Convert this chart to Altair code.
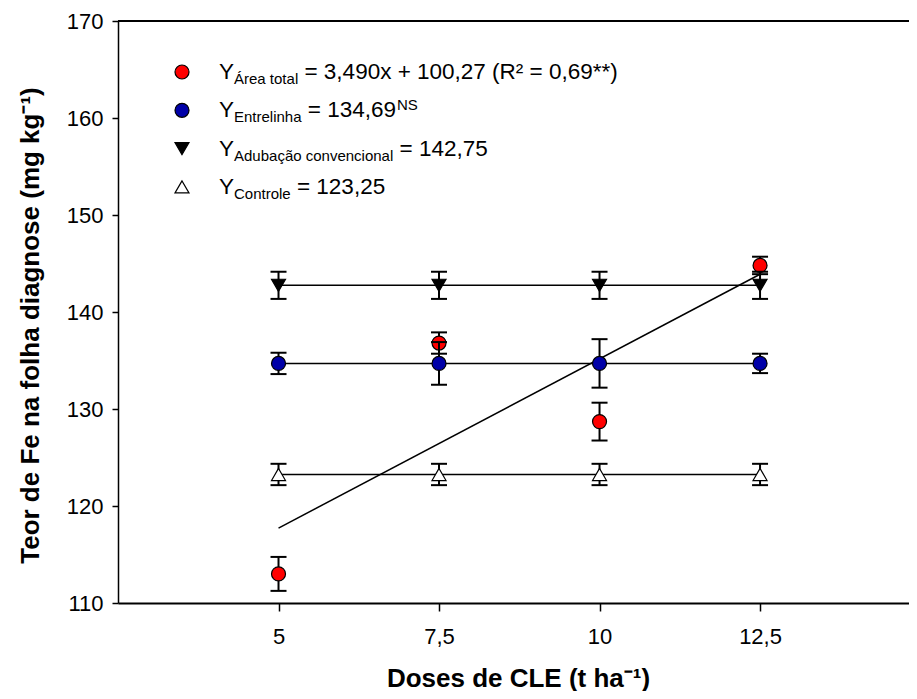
import altair as alt
import pandas as pd

# ---------------- data ----------------
doses = [5, 7.5, 10, 12.5]

area_total = [113.0, 136.8, 128.7, 144.8]
area_total_err = [1.75, 1.1, 1.95, 0.9]

entrelinha = [134.7, 134.7, 134.7, 134.7]
entrelinha_err = [1.1, 2.2, 2.5, 1.0]

adubacao = [142.75, 142.75, 142.75, 142.75]
adubacao_err = [1.4, 1.4, 1.4, 1.4]

controle = [123.25, 123.25, 123.25, 123.25]
controle_err = [1.1, 1.1, 1.1, 1.1]

# regression / mean lines (from the legend equations)
reg_slope, reg_intercept = 3.490, 100.27
mean_entrelinha = 134.69
mean_adubacao = 142.75
mean_controle = 123.25

x_ticks = [5, 7.5, 10, 12.5]
y_ticks = [110, 120, 130, 140, 150, 160, 170]

legend_rows = [
    ("Y", "Área total", "= 3,490x + 100,27 (R² = 0,69**)", ""),
    ("Y", "Entrelinha", "= 134,69", "NS"),
    ("Y", "Adubação convencional", "= 142,75", ""),
    ("Y", "Controle", "= 123,25", ""),
]

# ---------------- layout ----------------
W, H = 791, 582
FONT = "Liberation Sans"
RED, BLUE = "#FF0000", "#0000A8"

x_scale = alt.Scale(domain=[2.5, 14.82], nice=False, zero=False)
y_scale = alt.Scale(domain=[110, 170], nice=False, zero=False)

x_axis = alt.Axis(
    values=x_ticks, labelExpr="replace(format(datum.value, ''), '.', ',')",
    title="Doses de CLE (t ha⁻¹)", titleFontSize=26, titleFontWeight="bold",
    titleX=400, titleY=83, titleBaseline="alphabetic", titleAlign="center",
    labelFontSize=22, labelPadding=15, tickSize=8, tickWidth=1.5,
    domainWidth=2, grid=False, labelFlush=False,
)
y_axis = alt.Axis(
    values=y_ticks, title="Teor de Fe na folha diagnose (mg kg⁻¹)",
    titleFontSize=26, titleFontWeight="bold", titleAngle=270,
    titleX=-80, titleY=304, titleBaseline="alphabetic", titleAlign="center",
    labelFontSize=22, labelPadding=9, tickSize=6, tickWidth=1.5,
    domainWidth=1.5, grid=False, labelFlush=False,
)


def X(field="dose"):
    return alt.X(f"{field}:Q", scale=x_scale, axis=x_axis)


def Y(field="value"):
    return alt.Y(f"{field}:Q", scale=y_scale, axis=y_axis)


def series_df(vals, errs):
    df = pd.DataFrame({"dose": doses, "value": vals, "err": errs})
    df["lo"] = df["value"] - df["err"]
    df["hi"] = df["value"] + df["err"]
    return df


series = [
    (series_df(area_total, area_total_err), "circle", RED),
    (series_df(entrelinha, entrelinha_err), "circle", BLUE),
    (series_df(adubacao, adubacao_err), "triangle-down", "black"),
    (series_df(controle, controle_err), "triangle-up", "white"),
]

layers = []

# top frame line
top_line = alt.Chart(alt.Data(values=[{}])).mark_rule(color="black", strokeWidth=2).encode(
    x=alt.value(0), x2=alt.value(W), y=alt.value(0)
)
layers.append(top_line)

# mean lines
means = pd.DataFrame({
    "x0": [min(doses)] * 3,
    "x1": [max(doses)] * 3,
    "value": [mean_entrelinha, mean_adubacao, mean_controle],
})
layers.append(
    alt.Chart(means).mark_rule(color="black", strokeWidth=1.5).encode(
        x=X("x0"), x2="x1:Q", y=Y("value")
    )
)

# regression line
reg = pd.DataFrame({"dose": [min(doses), max(doses)]})
reg["value"] = reg_slope * reg["dose"] + reg_intercept
layers.append(
    alt.Chart(reg).mark_line(color="black", strokeWidth=1.5).encode(x=X(), y=Y())
)

for df, shape, color in series:
    base = alt.Chart(df)
    layers.append(base.mark_rule(color="black", strokeWidth=2).encode(x=X(), y=Y("lo"), y2="hi:Q"))
    layers.append(base.mark_rule(color="black", strokeWidth=2, xOffset=-8, x2Offset=8).encode(
        x=X(), x2="dose:Q", y=Y("hi")))
    layers.append(base.mark_rule(color="black", strokeWidth=2, xOffset=-8, x2Offset=8).encode(
        x=X(), x2="dose:Q", y=Y("lo")))
    layers.append(base.mark_point(shape=shape, size=196, filled=True, fill=color,
                                  stroke="black", strokeWidth=1.2, opacity=1).encode(x=X(), y=Y()))

# ---------------- custom legend with subscripts ----------------
widths = {
    " ": 278, "(": 333, ")": 333, "*": 389, "+": 584, ",": 278, "-": 333, ".": 278,
    "=": 584, "A": 667, "C": 722, "E": 667, "N": 722, "R": 722, "S": 667, "Y": 667,
    "Á": 667, "a": 556, "b": 556, "c": 500, "d": 556, "e": 556, "h": 556, "i": 222,
    "l": 222, "n": 556, "o": 556, "r": 333, "s": 500, "t": 278, "u": 556, "v": 500,
    "x": 500, "ç": 500, "ã": 556, "²": 333,
}
for d in "0123456789":
    widths[d] = 556


def text_w(s, size):
    return sum(widths.get(ch, 556) for ch in s) * size / 1000.0


F_MAIN, F_SUB = 22.5, 15
sym_x, text_x0 = 64, 101
row0, row_step = 51, 38.3
one = alt.Data(values=[{}])

for i, ((main, sub, rest, sup), (_, shape, color)) in enumerate(zip(legend_rows, series)):
    ry = row0 + row_step * i
    layers.append(
        alt.Chart(one).mark_point(shape=shape, size=196, filled=True, fill=color,
                                  stroke="black", strokeWidth=1.2, opacity=1).encode(
            x=alt.value(sym_x), y=alt.value(ry))
    )
    x = text_x0
    layers.append(alt.Chart(one).mark_text(text=main, font=FONT, fontSize=F_MAIN, align="left",
                                           baseline="alphabetic", color="black").encode(
        x=alt.value(x), y=alt.value(ry + 7)))
    x += text_w(main, F_MAIN)
    layers.append(alt.Chart(one).mark_text(text=sub, font=FONT, fontSize=F_SUB, align="left",
                                           baseline="alphabetic", color="black").encode(
        x=alt.value(x), y=alt.value(ry + 12)))
    x += text_w(sub, F_SUB) + text_w(" ", F_MAIN)
    layers.append(alt.Chart(one).mark_text(text=rest, font=FONT, fontSize=F_MAIN, align="left",
                                           baseline="alphabetic", color="black").encode(
        x=alt.value(x), y=alt.value(ry + 7)))
    x += text_w(rest, F_MAIN)
    if sup:
        layers.append(alt.Chart(one).mark_text(text=sup, font=FONT, fontSize=F_SUB, align="left",
                                               baseline="alphabetic", color="black").encode(
            x=alt.value(x + 1), y=alt.value(ry)))

chart = alt.layer(*layers).properties(
    width=W, height=H,
    autosize=alt.AutoSizeParams(type="none"),
    padding={"left": 110, "top": 13, "right": 0, "bottom": 88},
).configure_view(stroke=None).configure_axis(
    labelFont=FONT, titleFont=FONT, labelColor="black", titleColor="black",
    domainColor="black", tickColor="black",
).configure_text(font=FONT)

chart.save("out.html", embed_options={"renderer": "svg", "actions": False})
